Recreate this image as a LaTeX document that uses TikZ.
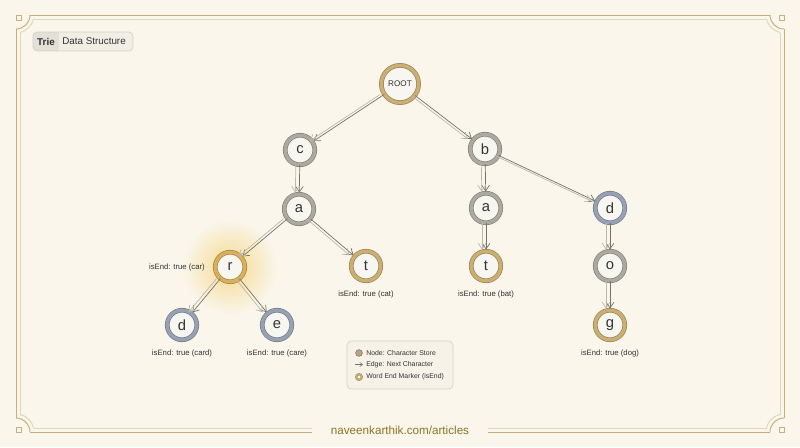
\documentclass[tikz,border=0pt]{standalone}
\usepackage{fontspec}
\setmainfont{Liberation Sans}
\usetikzlibrary{positioning,arrows.meta}

\definecolor{bgcream}{HTML}{FAF6EC}
\definecolor{framegold}{HTML}{C9B07A}
\definecolor{framelight}{HTML}{E2D6B6}
\definecolor{nodefill}{HTML}{F8F6F1}
\definecolor{ringgray}{HTML}{ADA9A0}
\definecolor{ringgold}{HTML}{CBAE72}
\definecolor{ringglow}{HTML}{D9B05A}
\definecolor{ringblue}{HTML}{96A1B3}
\definecolor{edgedark}{HTML}{77736B}
\definecolor{edgelight}{HTML}{BDB8AD}
\definecolor{textdark}{HTML}{333333}
\definecolor{footgold}{HTML}{8C7424}
\definecolor{glowgold}{HTML}{F5D98E}
\definecolor{titlelight}{HTML}{F1EEE6}
\definecolor{titledark}{HTML}{E3E0D8}
\definecolor{boxborder}{HTML}{D6D1C6}
\definecolor{legendfill}{HTML}{F6F2E8}
\definecolor{legendtan}{HTML}{B9A383}

\begin{document}
\begin{tikzpicture}[x=0.025cm, y=-0.025cm,
  letter/.style={circle, inner sep=0pt, minimum size=21pt, fill=nodefill,
    draw=#1!75!black, double=#1, double distance=2.4pt, line width=0.45pt,
    text=textdark, font=\fontsize{10.5}{12}\selectfont},
  letter/.default=ringgray,
  endlabel/.style={inner sep=1pt, text=textdark, font=\fontsize{5.5}{6.5}\selectfont},
  edge/.style={-{Straight Barb[length=4pt,width=5.5pt]}, edgedark, line width=0.5pt,
    shorten >=1pt, postaction={draw=edgelight, transform canvas={xshift=-2.8pt}}},
  legtext/.style={anchor=west, inner sep=0pt, text=textdark, font=\fontsize{4.9}{5.5}\selectfont}]
  %Hintergrund
  \fill[bgcream] (0,0) rectangle (800,447);
  \shade[inner color=glowgold, outer color=bgcream] (230,267) circle (34pt);
  %Rahmen
  \draw[framegold, line width=0.7pt] (30,15) -- (770,15);
  \draw[framegold, line width=0.7pt] (16,29) -- (16,418);
  \draw[framegold, line width=0.7pt] (784,29) -- (784,418);
  \draw[framegold, line width=0.7pt] (30,432) -- (312,432);
  \draw[framegold, line width=0.7pt] (488,432) -- (770,432);
  \draw[framelight, line width=0.7pt] (33.5,19) -- (766.5,19);
  \draw[framelight, line width=0.7pt] (20,32.5) -- (20,414.5);
  \draw[framelight, line width=0.7pt] (780,32.5) -- (780,414.5);
  \draw[framelight, line width=0.7pt] (33.5,428) -- (312,428);
  \draw[framelight, line width=0.7pt] (488,428) -- (766.5,428);
  \foreach \cx/\cy/\sx/\sy in {16/15/1/1, 784/15/-1/1, 16/432/1/-1, 784/432/-1/-1}{
    \begin{scope}[shift={(\cx,\cy)}, xscale=\sx, yscale=\sy]
      \draw[framegold, line width=0.7pt] (14,0) arc[start angle=0, end angle=90, radius=14];
      \draw[framelight, line width=0.7pt] (17.55,4) arc[start angle=12.84, end angle=77.16, radius=18];
      \draw[framegold, line width=0.5pt] (0,0) rectangle (5,5);
    \end{scope}
  }
  %Titel
  \begin{scope}
    \clip[rounded corners=3pt] (33,32) rectangle (133,51);
    \fill[titlelight] (33,32) rectangle (133,51);
    \fill[titledark] (33,32) rectangle (59,51);
  \end{scope}
  \draw[boxborder, line width=0.5pt, rounded corners=3pt] (33,32) rectangle (133,51);
  \node[text=textdark, font=\bfseries\fontsize{7}{8}\selectfont] (titletrie) at (46,41.5) {Trie};
  \node[anchor=west, inner sep=0pt, text=textdark, font=\fontsize{7}{8}\selectfont] (titlerest) at (62,41.5) {Data Structure};
  %Knoten
  \node[letter=ringgold, minimum size=26.5pt, font=\fontsize{5.8}{7}\selectfont] (root) at (400,84) {ROOT};
  \node[letter] (c) at (300,150) {c};
  \node[letter] (ca) at (299,209) {a};
  \node[letter=ringglow] (car) at (230,267) {r};
  \node[letter=ringblue] (card) at (182,325) {d};
  \node[letter=ringblue] (care) at (277,325) {e};
  \node[letter=ringgold] (cat) at (366,266) {t};
  \node[letter] (b) at (485,149) {b};
  \node[letter] (ba) at (486,208) {a};
  \node[letter=ringgold] (bat) at (486,266) {t};
  \node[letter=ringblue] (d) at (610,208) {d};
  \node[letter] (do) at (610,266) {o};
  \node[letter=ringgold] (dog) at (610,325) {g};
  %Wortende
  \node[endlabel, left=6pt of car] (carlabel) {isEnd: true (car)};
  \node[endlabel, below=6pt of cat] (catlabel) {isEnd: true (cat)};
  \node[endlabel, below=6pt of card] (cardlabel) {isEnd: true (card)};
  \node[endlabel, below=6pt of care] (carelabel) {isEnd: true (care)};
  \node[endlabel, below=6pt of bat] (batlabel) {isEnd: true (bat)};
  \node[endlabel, below=6pt of dog] (doglabel) {isEnd: true (dog)};
  %Kanten
  \draw[edge] (root) -- (c);
  \draw[edge] (root) -- (b);
  \draw[edge] (c) -- (ca);
  \draw[edge] (ca) -- (car);
  \draw[edge] (ca) -- (cat);
  \draw[edge] (car) -- (card);
  \draw[edge] (car) -- (care);
  \draw[edge] (b) -- (ba);
  \draw[edge] (ba) -- (bat);
  \draw[edge] (b) -- (d);
  \draw[edge] (d) -- (do);
  \draw[edge] (do) -- (dog);
  %Legende
  \draw[boxborder, fill=legendfill, line width=0.5pt, rounded corners=3pt] (347,341) rectangle (453,389);
  \fill[legendtan, draw=legendtan!70!black, line width=0.4pt] (359,353) circle (2.4pt);
  \node[legtext] (legnode) at (366,353) {Node: Character Store};
  \draw[-{Straight Barb[length=2pt,width=3pt]}, edgedark, line width=0.4pt] (355,364.5) -- (363,364.5);
  \node[legtext] (legedge) at (366,364.5) {Edge: Next Character};
  \draw[ringgold!75!black, double=ringgold, double distance=0.9pt, line width=0.3pt, fill=nodefill] (359,377) circle (2pt);
  \node[legtext] (legend) at (366,377) {Word End Marker (isEnd)};
  %Fusszeile
  \node[text=footgold, font=\fontsize{8.3}{10}\selectfont] (footer) at (400,430) {naveenkarthik.com/articles};
\end{tikzpicture}
\end{document}
